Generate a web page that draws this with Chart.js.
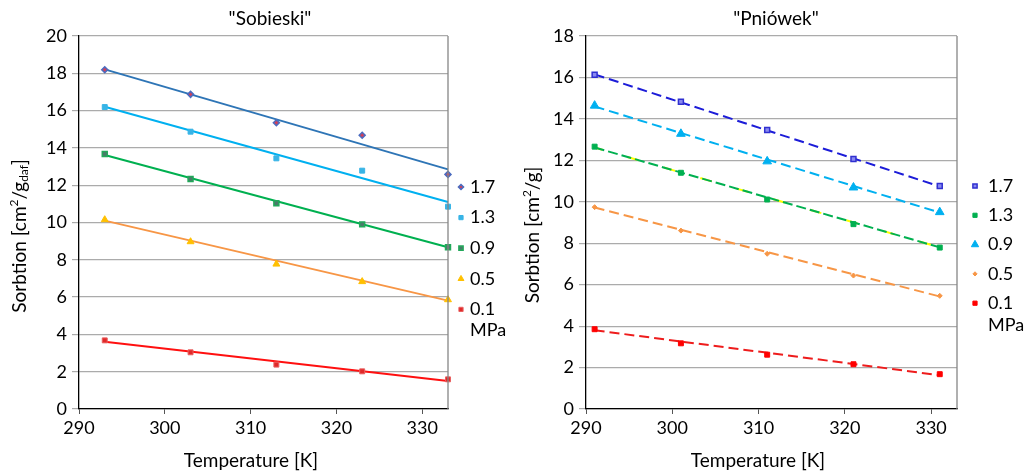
<!DOCTYPE html>
<html><head><meta charset="utf-8">
<script src="https://cdn.jsdelivr.net/npm/chart.js@4.4.1/dist/chart.umd.min.js"></script>
<style>
html,body{margin:0;padding:0;background:#fff;}
#wrap{position:relative;width:1029px;height:475px;overflow:hidden;}
canvas{position:absolute;top:0;}
#c1{left:0;} #c2{left:515px;}
</style></head><body>
<div id="wrap"><canvas id="c1" width="514" height="475"></canvas><canvas id="c2" width="514" height="475"></canvas></div>
<script>
// ---- data ----
const xTicks = [290, 300, 310, 320, 330];
const sobYTicks = [0, 2, 4, 6, 8, 10, 12, 14, 16, 18, 20];
const pniYTicks = [0, 2, 4, 6, 8, 10, 12, 14, 16, 18];

const sobTitle = '"Sobieski"';
const pniTitle = '"Pniówek"';
const xTitle = 'Temperature [K]';
const legendLabels = ['1.7', '1.3', '0.9', '0.5', '0.1'];
const unitLabel = 'MPa';

const sobTemps = [293, 303, 313, 323, 333];
const sob17 = [18.19, 16.87, 15.35, 14.68, 12.58];
const sob13 = [16.19, 14.87, 13.44, 12.78, 10.85];
const sob09 = [13.67, 12.33, 11.03, 9.90, 8.67];
const sob05 = [10.15, 8.97, 7.77, 6.83, 5.86];
const sob01 = [3.68, 3.04, 2.38, 2.02, 1.59];
const sobTrendX = [293, 333];
const sobTrend17 = [18.21, 12.85];
const sobTrend13 = [16.21, 11.10];
const sobTrend09 = [13.62, 8.67];
const sobTrend05 = [10.10, 5.81];
const sobTrend01 = [3.61, 1.50];

const pniTemps = [291, 301, 311, 321, 331];
const pni17 = [16.13, 14.83, 13.46, 12.06, 10.76];
const pni13 = [12.66, 11.40, 10.11, 8.92, 7.79];
const pni09 = [14.64, 13.28, 11.95, 10.69, 9.50];
const pni05 = [9.74, 8.61, 7.49, 6.44, 5.46];
const pni01 = [3.85, 3.17, 2.62, 2.16, 1.68];
const pniTrendX = [291, 331];
const pniTrend17 = [16.15, 10.74];
const pniTrend13 = [12.62, 7.80];
const pniTrend09 = [14.60, 9.48];
const pniTrend05 = [9.72, 5.43];
const pniTrend01 = [3.80, 1.63];

// ---- helpers ----
const FONT = 'Lato, "Open Sans", sans-serif';
const pts = (xs, ys) => xs.map((x, i) => ({x: x, y: ys[i]}));

function drawMarker(ctx, m, x, y) {
  ctx.save();
  ctx.fillStyle = m.backgroundColor;
  ctx.strokeStyle = m.borderColor;
  ctx.lineWidth = m.borderWidth;
  if (Chart.helpers && Chart.helpers.drawPoint) {
    Chart.helpers.drawPoint(ctx, {pointStyle: m.pointStyle, radius: m.pointRadius, rotation: 0, borderWidth: m.borderWidth}, x, y);
  } else {
    const r = m.pointRadius;
    ctx.beginPath();
    ctx.rect(x - r, y - r, 2 * r, 2 * r);
    ctx.fill(); ctx.stroke();
  }
  ctx.restore();
}

function makeChart(id, o) {
  const ds = [];
  o.series.forEach(s => {
    (s.extraLines || []).forEach(e => ds.push({
      type: 'line', data: pts(o.trendX, s.trend), borderColor: e.color, borderWidth: e.width,
      borderDash: e.dash, borderDashOffset: e.offset || 0, pointRadius: 0, fill: false, order: 3, clip: false
    }));
    ds.push({
      type: 'line', data: pts(o.trendX, s.trend), borderColor: s.lineColor, borderWidth: 2,
      borderDash: s.dash || [], pointRadius: 0, fill: false, order: 2, clip: false
    });
    ds.push({
      type: 'scatter', label: s.label, data: pts(o.temps, s.values), showLine: false,
      pointStyle: s.marker.pointStyle, pointRadius: s.marker.pointRadius,
      backgroundColor: s.marker.backgroundColor, borderColor: s.marker.borderColor,
      borderWidth: s.marker.borderWidth, pointHoverRadius: s.marker.pointRadius, order: 0, clip: false
    });
  });
  const deco = {
    id: 'deco',
    afterDraw(chart) {
      const ctx = chart.ctx, ca = chart.chartArea;
      ctx.save();
      // right border
      ctx.strokeStyle = '#868686'; ctx.lineWidth = 1.3;
      ctx.beginPath(); ctx.moveTo(ca.right, ca.top); ctx.lineTo(ca.right, ca.bottom); ctx.stroke();
      ctx.fillStyle = '#000';
      // chart title
      ctx.font = '19px ' + FONT; ctx.textAlign = 'center'; ctx.textBaseline = 'alphabetic';
      ctx.fillText(o.title, o.titleX, 25);
      // x title
      ctx.font = '19px ' + FONT;
      ctx.fillText(xTitle, o.xTitleX, 467);
      // y title (rotated, with super/subscript)
      ctx.translate(o.yTitleX, o.yTitleY);
      ctx.rotate(-Math.PI / 2);
      const big = '19px ' + FONT, small = '12px ' + FONT;
      const parts = o.yParts;
      let total = 0;
      parts.forEach(p => { ctx.font = p.t === 'n' ? big : small; p.w = ctx.measureText(p.s).width; total += p.w; });
      let cx = -total / 2;
      ctx.textAlign = 'left'; ctx.textBaseline = 'middle';
      parts.forEach(p => {
        ctx.font = p.t === 'n' ? big : small;
        const dy = p.t === 'sup' ? -6 : (p.t === 'sub' ? 4 : 0);
        ctx.fillText(p.s, cx, dy);
        cx += p.w;
      });
      ctx.setTransform(1, 0, 0, 1, 0, 0);
      // legend
      ctx.font = '18px ' + FONT; ctx.textAlign = 'left'; ctx.textBaseline = 'middle'; ctx.fillStyle = '#000';
      o.legendOrder.forEach((idx, i) => {
        const s = o.series[idx];
        const y = o.legendY + i * o.legendStep;
        const m = Object.assign({}, s.marker, {pointRadius: s.marker.pointRadius * 0.85});
        drawMarker(ctx, m, o.legendMarkerX, y);
        ctx.fillStyle = '#000';
        ctx.fillText(legendLabels[i], o.legendTextX, y);
      });
      ctx.fillText(unitLabel, o.legendTextX, o.legendY + 4 * o.legendStep + o.unitGap);
      ctx.restore();
    }
  };
  return new Chart(document.getElementById(id), {
    data: {datasets: ds},
    options: {
      responsive: false, animation: false,
      layout: {padding: {left: 0, right: o.padRight, top: 36, bottom: 0}},
      plugins: {legend: {display: false}, tooltip: {enabled: false}, title: {display: false}},
      scales: {
        x: {
          type: 'linear', min: 290, max: 333,
          afterBuildTicks: sc => { sc.ticks = xTicks.map(v => ({value: v})); },
          afterFit: sc => { sc.height = 66; },
          grid: {drawOnChartArea: false, drawTicks: true, tickLength: 5, color: '#555', lineWidth: 1},
          border: {color: '#000', width: 1.3},
          ticks: {color: '#000', font: {family: FONT, size: 18}, padding: 3, maxRotation: 0, autoSkip: false}
        },
        y: {
          type: 'linear', min: 0, max: o.yMax,
          afterBuildTicks: sc => { sc.ticks = o.yTicks.map(v => ({value: v})); },
          afterFit: sc => { sc.width = o.plotLeft; },
          grid: {color: '#ababab', lineWidth: 1.2, drawTicks: true, tickLength: 7},
          border: {color: '#000', width: 1.3},
          ticks: {color: '#000', font: {family: FONT, size: 18}, padding: 5, autoSkip: false}
        }
      }
    },
    plugins: [deco]
  });
}

makeChart('c1', {
  title: sobTitle, titleX: 270, xTitleX: 251, yTitleX: 20, yTitleY: 236,
  yParts: [{s: 'Sorbtion [cm', t: 'n'}, {s: '2', t: 'sup'}, {s: '/g', t: 'n'}, {s: 'daf', t: 'sub'}, {s: ']', t: 'n'}],
  yMax: 20, yTicks: sobYTicks, plotLeft: 79, padRight: 66,
  temps: sobTemps, trendX: sobTrendX,
  legendOrder: [0, 1, 2, 3, 4], legendY: 187, legendStep: 30.6, unitGap: 21, legendMarkerX: 461, legendTextX: 470,
  series: [
    {label: '1.7', values: sob17, trend: sobTrend17, lineColor: '#2e75b6',
     marker: {pointStyle: 'rectRot', pointRadius: 3, backgroundColor: '#d0405a', borderColor: '#4a6cc0', borderWidth: 1.5}},
    {label: '1.3', values: sob13, trend: sobTrend13, lineColor: '#00b0f0',
     marker: {pointStyle: 'rect', pointRadius: 3.5, backgroundColor: '#38b4e6', borderColor: '#38b4e6', borderWidth: 1}},
    {label: '0.9', values: sob09, trend: sobTrend09, lineColor: '#00b050',
     marker: {pointStyle: 'rect', pointRadius: 3.5, backgroundColor: '#4a7a6a', borderColor: '#22a85a', borderWidth: 1.5}},
    {label: '0.5', values: sob05, trend: sobTrend05, lineColor: '#f79646',
     marker: {pointStyle: 'triangle', pointRadius: 4, backgroundColor: '#ffc000', borderColor: '#ffc000', borderWidth: 1}},
    {label: '0.1', values: sob01, trend: sobTrend01, lineColor: '#ff1010',
     marker: {pointStyle: 'rect', pointRadius: 3.5, backgroundColor: '#e02a2a', borderColor: '#e86060', borderWidth: 1}}
  ]
});

makeChart('c2', {
  title: pniTitle, titleX: 261, xTitleX: 243, yTitleX: 18, yTitleY: 235,
  yParts: [{s: 'Sorbtion [cm', t: 'n'}, {s: '2', t: 'sup'}, {s: '/g]', t: 'n'}],
  yMax: 18, yTicks: pniYTicks, plotLeft: 71, padRight: 72,
  temps: pniTemps, trendX: pniTrendX,
  legendOrder: [0, 1, 2, 3, 4], legendY: 186, legendStep: 29.3, unitGap: 22, legendMarkerX: 460, legendTextX: 473,
  series: [
    {label: '1.7', values: pni17, trend: pniTrend17, lineColor: '#1c1cd8', dash: [10, 5],
     marker: {pointStyle: 'rect', pointRadius: 3.5, backgroundColor: '#8a8af0', borderColor: '#3030d0', borderWidth: 1.5}},
    {label: '1.3', values: pni13, trend: pniTrend13, lineColor: '#00b050', dash: [10, 4],
     extraLines: [{color: '#ffff00', width: 2, dash: [12, 26], offset: 4}],
     marker: {pointStyle: 'rect', pointRadius: 3.5, backgroundColor: '#00b050', borderColor: '#00b050', borderWidth: 1}},
    {label: '0.9', values: pni09, trend: pniTrend09, lineColor: '#00b0f0', dash: [10, 5],
     marker: {pointStyle: 'triangle', pointRadius: 5, backgroundColor: '#00b0f0', borderColor: '#00b0f0', borderWidth: 1}},
    {label: '0.5', values: pni05, trend: pniTrend05, lineColor: '#f79646', dash: [10, 5],
     marker: {pointStyle: 'rectRot', pointRadius: 2.5, backgroundColor: '#f79646', borderColor: '#f79646', borderWidth: 1}},
    {label: '0.1', values: pni01, trend: pniTrend01, lineColor: '#ee1c1c', dash: [10, 5],
     marker: {pointStyle: 'rect', pointRadius: 3.5, backgroundColor: '#ff0000', borderColor: '#ff0000', borderWidth: 1}}
  ]
});
</script>
</body></html>
